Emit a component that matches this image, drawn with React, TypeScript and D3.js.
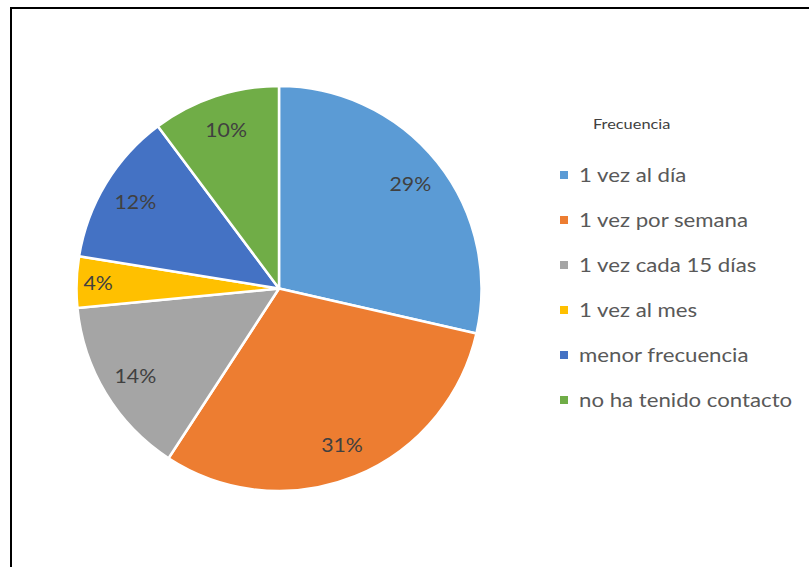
import React, { useEffect, useRef } from "react";
import * as d3 from "d3";

const categories = [
  "1 vez al día",
  "1 vez por semana",
  "1 vez cada 15 días",
  "1 vez al mes",
  "menor frecuencia",
  "no ha tenido contacto",
];
const counts = [14, 15, 7, 2, 6, 5];
const colors = ["#5B9BD5", "#ED7D31", "#A5A5A5", "#FFC000", "#4472C4", "#70AD47"];
const legendTitle = "Frecuencia";

export default function App() {
  const ref = useRef<SVGSVGElement>(null);

  useEffect(() => {
    const svg = d3.select(ref.current);
    svg.selectAll("*").remove();
    const W = 809, H = 567;
    const font = "Lato, 'Open Sans', sans-serif";

    svg.append("rect").attr("width", W).attr("height", H).attr("fill", "#fff");
    svg.append("rect")
      .attr("x", 11).attr("y", 8).attr("width", 1000).attr("height", 1000)
      .attr("fill", "none").attr("stroke", "#000").attr("stroke-width", 2);

    const cx = 279, cy = 288.5, r = 202.5;
    const total = d3.sum(counts);
    const data = categories.map((c, i) => ({ c, v: counts[i], color: colors[i] }));
    const pie = d3.pie<any>().value((d) => d.v).sort(null);
    const arcs = pie(data);
    const arc = d3.arc<any>().innerRadius(0).outerRadius(r);
    const g = svg.append("g").attr("transform", `translate(${cx},${cy})`);
    g.selectAll("path").data(arcs).enter().append("path")
      .attr("d", arc as any)
      .attr("fill", (d: any) => d.data.color)
      .attr("stroke", "#fff").attr("stroke-width", 2.5).attr("stroke-linejoin", "round");

    g.selectAll("text").data(arcs).enter().append("text")
      .attr("transform", (d: any) => {
        const frac = d.data.v / total;
        const lr = frac < 0.05 ? 181 : 168;
        const a = (d.startAngle + d.endAngle) / 2;
        return `translate(${Math.sin(a) * lr},${-Math.cos(a) * lr}) scale(1.12,1)`;
      })
      .attr("text-anchor", "middle").attr("dominant-baseline", "central")
      .attr("font-family", font).attr("font-size", 19)
      .attr("fill", "#404040")
      .text((d: any) => `${Math.round((d.data.v / total) * 100)}%`);

    svg.append("text").attr("transform", "translate(593,129) scale(1.17,1)")
      .attr("font-family", font).attr("font-size", 14)
      .attr("fill", "#404040").text(legendTitle);

    const ly = d3.scalePoint<string>().domain(categories).range([175, 400]);
    const lg = svg.append("g");
    categories.forEach((c, i) => {
      const y = ly(c)!;
      lg.append("rect").attr("x", 560).attr("y", y - 4).attr("width", 8).attr("height", 8)
        .attr("fill", colors[i]);
      lg.append("text").attr("transform", `translate(579,${y}) scale(1.17,1)`)
        .attr("dominant-baseline", "central")
        .attr("font-family", font).attr("font-size", 19)
        .attr("fill", "#595959").text(c);
    });
  }, []);

  return (
    <svg ref={ref} width={809} height={567}
      style={{ position: "absolute", left: 0, top: 0, display: "block" }} />
  );
}
